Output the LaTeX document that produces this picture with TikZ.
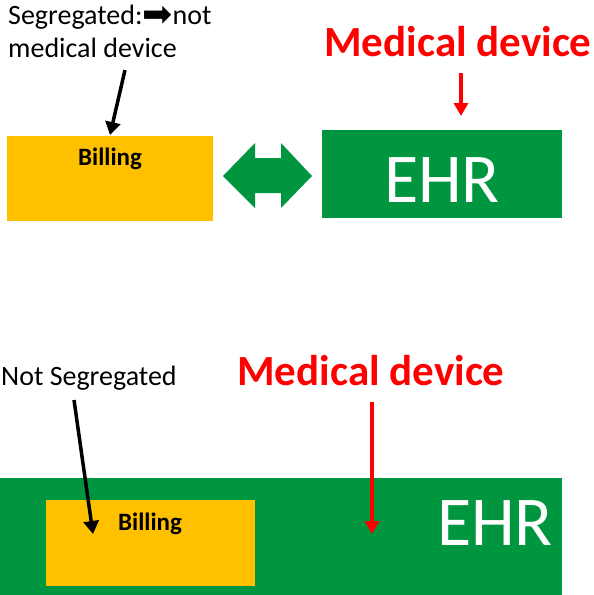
\documentclass[tikz,border=0pt]{standalone}
\usepackage{fontspec}
\setmainfont{Carlito}
\newfontfamily\symfont{DejaVu Sans}
\usetikzlibrary{arrows.meta}
\definecolor{ehrgreen}{RGB}{0,150,64}
\definecolor{billorange}{RGB}{255,192,0}
\definecolor{mdred}{RGB}{255,0,0}
\begin{document}
\begin{tikzpicture}[x=1pt,y=-1pt,
  lbl/.style={font=\fontsize{28}{33}\selectfont,align=left,inner sep=0pt},
  mdlbl/.style={font=\fontsize{43}{46}\selectfont\bfseries,text=mdred,inner sep=0pt},
  ehrtxt/.style={font=\fontsize{70}{72}\selectfont,text=white,inner sep=0pt},
  billtxt/.style={font=\fontsize{25}{28}\selectfont\bfseries,inner sep=0pt},
  blackarr/.style={line width=3.5pt,-{Triangle[length=13pt,width=15pt]}},
  redarr/.style={draw=mdred,line width=3.5pt,-{Triangle[length=13pt,width=14pt]}}]
\useasboundingbox (0,0) rectangle (594,595);
% ---------- top ----------
\fill[billorange] (7,136) rectangle (213,221);
\node[billtxt] (billtxt1) at (110,159) {Billing};
\fill[ehrgreen] (322,130) rectangle (562,218);
\node[ehrtxt] (ehr1) at (442,180) {EHR};
\node[lbl,anchor=north west] (seg) at (8,5) {Segregated:\raisebox{-0.06em}{\fontsize{36}{36}\selectfont\symfont ➡}not\\medical device};
\node[mdlbl] (md1) at (458,42) {Medical device};
\coordinate (a1s) at (125,70);
\coordinate (a1e) at (110,135);
\draw[blackarr] (a1s) -- (a1e);
\coordinate (r1s) at (461,73);
\coordinate (r1e) at (461,116);
\draw[redarr] (r1s) -- (r1e);
% double arrow
\fill[ehrgreen] (223,176) -- (255,143) -- (255,158) -- (281,158) -- (281,143) -- (312,176)
  -- (281,208) -- (281,193) -- (255,193) -- (255,208) -- cycle;
% ---------- bottom ----------
\fill[ehrgreen] (0,478) rectangle (562,595);
\fill[billorange] (46,500) rectangle (255,586);
\node[billtxt] (billtxt2) at (150,524) {Billing};
\node[ehrtxt] (ehr2) at (495,523) {EHR};
\node[lbl,anchor=north west] (nseg) at (1,366) {Not Segregated};
\node[mdlbl] (md2) at (371,371) {Medical device};
\coordinate (a2s) at (74,400);
\coordinate (a2e) at (93,534);
\draw[blackarr] (a2s) -- (a2e);
\coordinate (r2s) at (372,402);
\coordinate (r2e) at (372,534);
\draw[redarr] (r2s) -- (r2e);
\end{tikzpicture}
\end{document}
